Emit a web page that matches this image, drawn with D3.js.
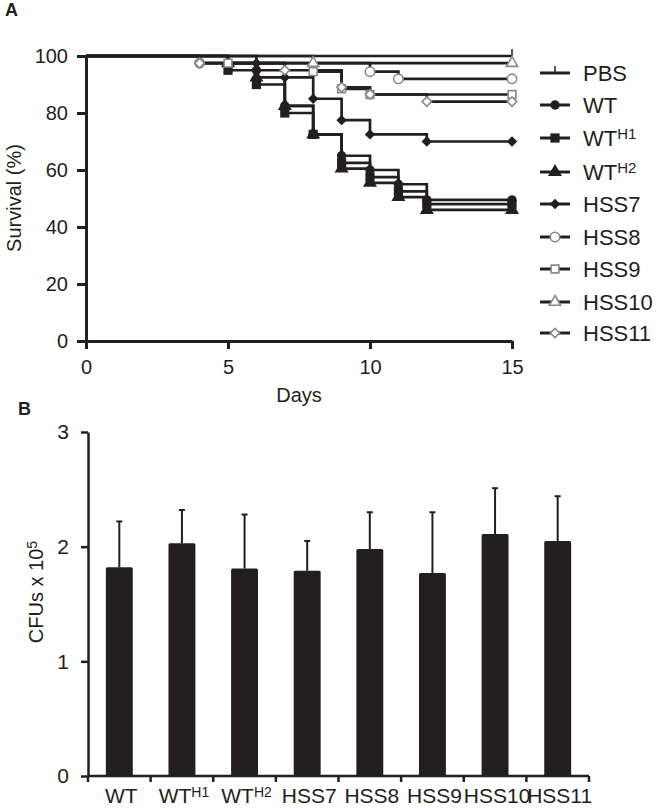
<!DOCTYPE html>
<html><head><meta charset="utf-8">
<script src="https://cdn.jsdelivr.net/npm/d3@7"></script>
<style>
html,body{margin:0;padding:0;background:#fff;}
text{font-family:"Liberation Sans",Arial,Helvetica,sans-serif;fill:#231f20;}
</style></head>
<body><svg id="fig" width="656" height="808"></svg>
<script>
// ---------- Panel A data: Kaplan-Meier steps [day, % survival] ----------
const survPBS   = [[0,100],[15,100]];
const survWT    = [[0,100],[4,97.5],[6,95],[7,82.5],[8,72.5],[9,65],[10,60],[11,55],[12,49.5],[15,49.5]];
const survWTH1  = [[0,100],[5,95],[6,90],[7,80],[8,72.5],[9,62.5],[10,57.5],[11,52.5],[12,48],[15,48]];
const survWTH2  = [[0,100],[5,97.5],[6,92.5],[7,82.5],[8,72.5],[9,60.5],[10,55.5],[11,50.5],[12,46],[15,46]];
const survHSS7  = [[0,100],[6,97.5],[7,92.5],[8,85],[9,77.5],[10,72.5],[12,70],[15,70]];
const survHSS8  = [[0,100],[4,97.5],[10,94.5],[11,92],[15,92]];
const survHSS9  = [[0,100],[5,97.5],[8,94.5],[9,88.5],[10,86.5],[15,86.5]];
const survHSS10 = [[0,100],[8,97.5],[15,97.5]];
const survHSS11 = [[0,100],[4,97.5],[7,95],[9,89],[10,86.5],[12,84],[15,84]];
const seriesNames = ["PBS","WT","WT^H1","WT^H2","HSS7","HSS8","HSS9","HSS10","HSS11"];
const seriesSymbols = ["tick","circle","square","triangle","diamond","circle","square","triangle","diamond"];
const seriesOpen = [false,false,false,false,false,true,true,true,true];
const dayTicks = [0,5,10,15];
const survTicks = [0,20,40,60,80,100];

// ---------- Panel B data ----------
const categories = ["WT","WT^H1","WT^H2","HSS7","HSS8","HSS9","HSS10","HSS11"];
const cfuMeans = [1.82,2.03,1.81,1.79,1.98,1.77,2.11,2.05];
const cfuErrTop = [2.22,2.32,2.28,2.05,2.30,2.30,2.51,2.44];
const cfuTicks = [0,1,2,3];

const curves = [survPBS,survWT,survWTH1,survWTH2,survHSS7,survHSS8,survHSS9,survHSS10,survHSS11];
const ink = "#231f20";
const svg = d3.select("#fig");

function addLabel(sel, label, supSize){
  const parts = label.split("^");
  sel.append("tspan").text(parts[0]);
  if(parts[1]) sel.append("tspan").attr("font-size",supSize).attr("dy","-0.45em").text(parts[1]);
}
function symbolPath(kind, size){
  if(kind==="circle") return d3.symbol(d3.symbolCircle, size)();
  if(kind==="square" || kind==="diamond") return d3.symbol(d3.symbolSquare, size)();
  if(kind==="triangle") return d3.symbol(d3.symbolTriangle, size)();
  return null;
}
function drawMarker(g, kind, open, cx, cy){
  if(kind==="tick"){
    g.append("line").attr("x1",cx).attr("x2",cx).attr("y1",cy).attr("y2",cy-7)
      .attr("stroke",ink).attr("stroke-width",1.5);
    return;
  }
  let size = kind==="circle"? 70 : kind==="triangle"? 85 : kind==="diamond"? 55 : 85;
  if(open) size = kind==="triangle"? 55 : kind==="square"? 60 : kind==="diamond"? 45 : 70;
  const p = g.append("path").attr("d", symbolPath(kind, size))
    .attr("transform", `translate(${cx},${cy})` + (kind==="diamond"?" rotate(45)":""));
  if(open) p.attr("fill","#fff").attr("stroke","#8a8a8a").attr("stroke-width",1.6);
  else p.attr("fill",ink);
}

// ================= Panel A =================
const xA = d3.scaleLinear().domain([0,15]).range([86,512]);
const yA = d3.scaleLinear().domain([0,100]).range([341,56]);
const gA = svg.append("g");

const stepLine = d3.line().x(d=>xA(d[0])).y(d=>yA(d[1])).curve(d3.curveStepAfter);
curves.forEach((c,i)=>{
  gA.append("path").attr("d", stepLine(c)).attr("fill","none")
    .attr("stroke",ink).attr("stroke-width",2.7).attr("stroke-linejoin","miter");
});
curves.forEach((c,i)=>{
  c.slice(1).forEach(d=>{
    drawMarker(gA, seriesSymbols[i], seriesOpen[i], xA(d[0]), yA(d[1]));
  });
});

const axYA = gA.append("g").attr("transform","translate(86,0)")
  .call(d3.axisLeft(yA).tickValues(survTicks).tickSize(9).tickSizeOuter(0).tickPadding(9));
const axXA = gA.append("g").attr("transform","translate(0,341)")
  .call(d3.axisBottom(xA).tickValues(dayTicks).tickSize(8).tickSizeOuter(0).tickPadding(11));
[axYA,axXA].forEach(a=>{
  a.selectAll("path,line").attr("stroke",ink).attr("stroke-width",3);
  a.selectAll("text").attr("font-size",20).attr("fill",ink)
   .style("font-family","'Liberation Sans',Arial,sans-serif");
});
gA.append("text").attr("transform","translate(21,198) rotate(-90)")
  .attr("text-anchor","middle").attr("font-size",20).text("Survival (%)");
gA.append("text").attr("x",299).attr("y",402).attr("text-anchor","middle")
  .attr("font-size",20).text("Days");

// legend
const legY = [73,105,138,172,204,237,269,302,333];
seriesNames.forEach((n,i)=>{
  const y = legY[i];
  gA.append("line").attr("x1",540).attr("x2",570).attr("y1",y).attr("y2",y)
    .attr("stroke",ink).attr("stroke-width",3);
  drawMarker(gA, seriesSymbols[i], seriesOpen[i], 555, y);
  const t = gA.append("text").attr("x",583).attr("y",y+8).attr("font-size",22);
  addLabel(t, n, 15);
});

svg.append("text").attr("x",5).attr("y",16).attr("font-size",18).attr("font-weight","bold").text("A");
svg.append("text").attr("x",18).attr("y",415).attr("font-size",18).attr("font-weight","bold").text("B");

// ================= Panel B =================
const xB = d3.scaleBand().domain(categories).range([88,589]).paddingInner(0.57).paddingOuter(0.285);
const yB = d3.scaleLinear().domain([0,3]).range([776,432]);
const gB = svg.append("g");

// error bars
categories.forEach((c,i)=>{
  const cx = xB(c)+xB.bandwidth()/2;
  gB.append("line").attr("x1",cx).attr("x2",cx).attr("y1",yB(cfuMeans[i])).attr("y2",yB(cfuErrTop[i]))
    .attr("stroke",ink).attr("stroke-width",2);
  gB.append("line").attr("x1",cx-3).attr("x2",cx+3).attr("y1",yB(cfuErrTop[i])).attr("y2",yB(cfuErrTop[i]))
    .attr("stroke",ink).attr("stroke-width",2);
});
gB.selectAll("rect.bar").data(categories).enter().append("rect")
  .attr("x",c=>xB(c)).attr("width",xB.bandwidth())
  .attr("y",(c,i)=>yB(cfuMeans[i])).attr("height",(c,i)=>yB(0)-yB(cfuMeans[i]))
  .attr("fill",ink).attr("rx",1.5);

const axYB = gB.append("g").attr("transform","translate(88,0)")
  .call(d3.axisLeft(yB).tickValues(cfuTicks).tickSize(7).tickSizeOuter(0).tickPadding(12).tickFormat(d3.format("d")));
axYB.selectAll("path,line").attr("stroke",ink).attr("stroke-width",2.5);
axYB.selectAll("text").attr("font-size",21).attr("fill",ink)
  .style("font-family","'Liberation Sans',Arial,sans-serif");

// x axis line with ticks at band boundaries
const half = (xB.step()-xB.bandwidth())/2;
const bounds = categories.map(c=>xB(c)-half).concat([xB(categories[categories.length-1])+xB.bandwidth()+half]);
gB.append("line").attr("x1",bounds[0]).attr("x2",bounds[bounds.length-1]).attr("y1",yB(0)).attr("y2",yB(0))
  .attr("stroke",ink).attr("stroke-width",2.5);
bounds.forEach(b=>{
  gB.append("line").attr("x1",b).attr("x2",b).attr("y1",yB(0)).attr("y2",yB(0)+6)
    .attr("stroke",ink).attr("stroke-width",2.5);
});
categories.forEach(c=>{
  const t = gB.append("text").attr("x",xB(c)+xB.bandwidth()/2+2).attr("y",803)
    .attr("text-anchor","middle").attr("font-size",21);
  addLabel(t, c, 14);
});
const yl = gB.append("text").attr("transform","translate(43,592) rotate(-90)")
  .attr("text-anchor","middle").attr("font-size",20);
addLabel(yl, "CFUs x 10^5", 14);
</script>
</body></html>
